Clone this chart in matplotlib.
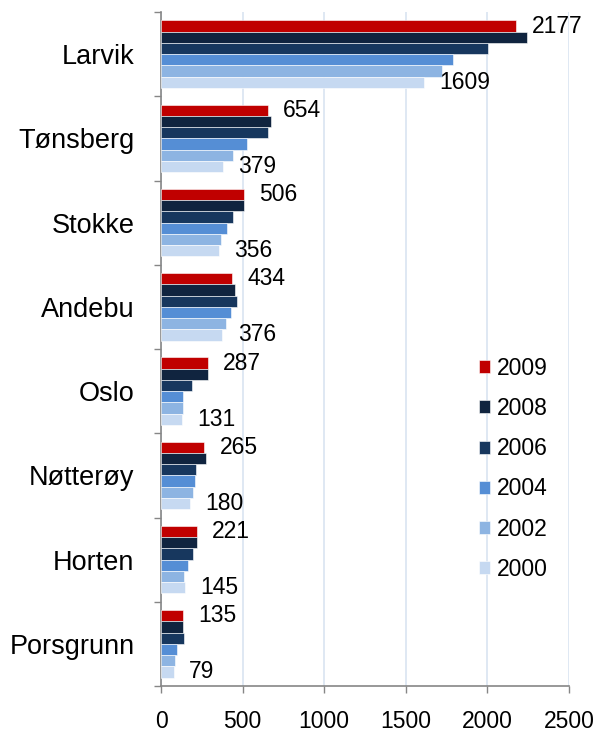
import numpy as np
import matplotlib.pyplot as plt
from matplotlib.ticker import FixedLocator

plt.rcParams['font.family'] = ['Liberation Sans', 'DejaVu Sans']

places = ['Larvik', 'Tønsberg', 'Stokke', 'Andebu', 'Oslo', 'Nøtterøy', 'Horten', 'Porsgrunn']
years = ['2009', '2008', '2006', '2004', '2002', '2000']
colors = ['#C00000', '#10243F', '#17375E', '#558ED5', '#8DB4E2', '#C6D9F1']

v2009 = [2177, 654, 506, 434, 287, 265, 221, 135]
v2008 = [2244, 675, 511, 455, 290, 277, 221, 137]
v2006 = [2005, 655, 443, 465, 187, 215, 198, 141]
v2004 = [1790, 528, 405, 428, 135, 206, 167, 95]
v2002 = [1723, 440, 368, 400, 133, 198, 142, 83]
v2000 = [1609, 379, 356, 376, 131, 180, 145, 79]
series = [v2009, v2008, v2006, v2004, v2002, v2000]

fig = plt.figure(figsize=(5.95, 7.32), dpi=100)
ax = fig.add_axes([0.2706, 0.0628, 0.6857, 0.9208])

n = len(years)
h = 0.8 / n
y = np.arange(len(places))
for i, (yr, vals, c) in enumerate(zip(years, series, colors)):
    pos = y - 0.4 + h * (i + 0.5)
    ax.barh(pos, vals, height=h, color=c, edgecolor='white', linewidth=0.4,
            label=yr, zorder=3)
    if i == 0 or i == n - 1:
        for p, v in zip(pos, vals):
            ax.annotate(str(v), (v, p), xytext=(11, 0), textcoords='offset points',
                        va='center', ha='left', fontsize=16.5, color='black', zorder=4)

ax.set_ylim(len(places) - 0.5, -0.5)
ax.set_xlim(0, 2500)
ax.set_xticks(range(0, 2501, 500))
ax.set_yticks(y)
ax.set_yticklabels(places, fontsize=19.5)
ax.yaxis.set_minor_locator(FixedLocator(np.arange(-0.5, len(places), 1)))
ax.tick_params(axis='y', which='major', length=0, pad=19)
ax.tick_params(axis='y', which='minor', length=5, width=1, color='#868686', direction='out')
ax.tick_params(axis='x', length=5, width=1, color='#868686', direction='out',
               labelsize=16.5, pad=12)

ax.grid(axis='x', color='#DCE6F2', linewidth=1.3, zorder=0)
ax.set_axisbelow(True)
for s in ['top', 'right']:
    ax.spines[s].set_visible(False)
for s in ['left', 'bottom']:
    ax.spines[s].set_color('#868686')
    ax.spines[s].set_linewidth(1.2)

leg = ax.legend(loc='upper left', bbox_to_anchor=(0.757, 0.502), frameon=False,
                fontsize=16.5, handlelength=0.5, handleheight=0.5,
                handletextpad=0.3, labelspacing=0.75, borderaxespad=0)

fig.savefig('out.png', dpi=100)
